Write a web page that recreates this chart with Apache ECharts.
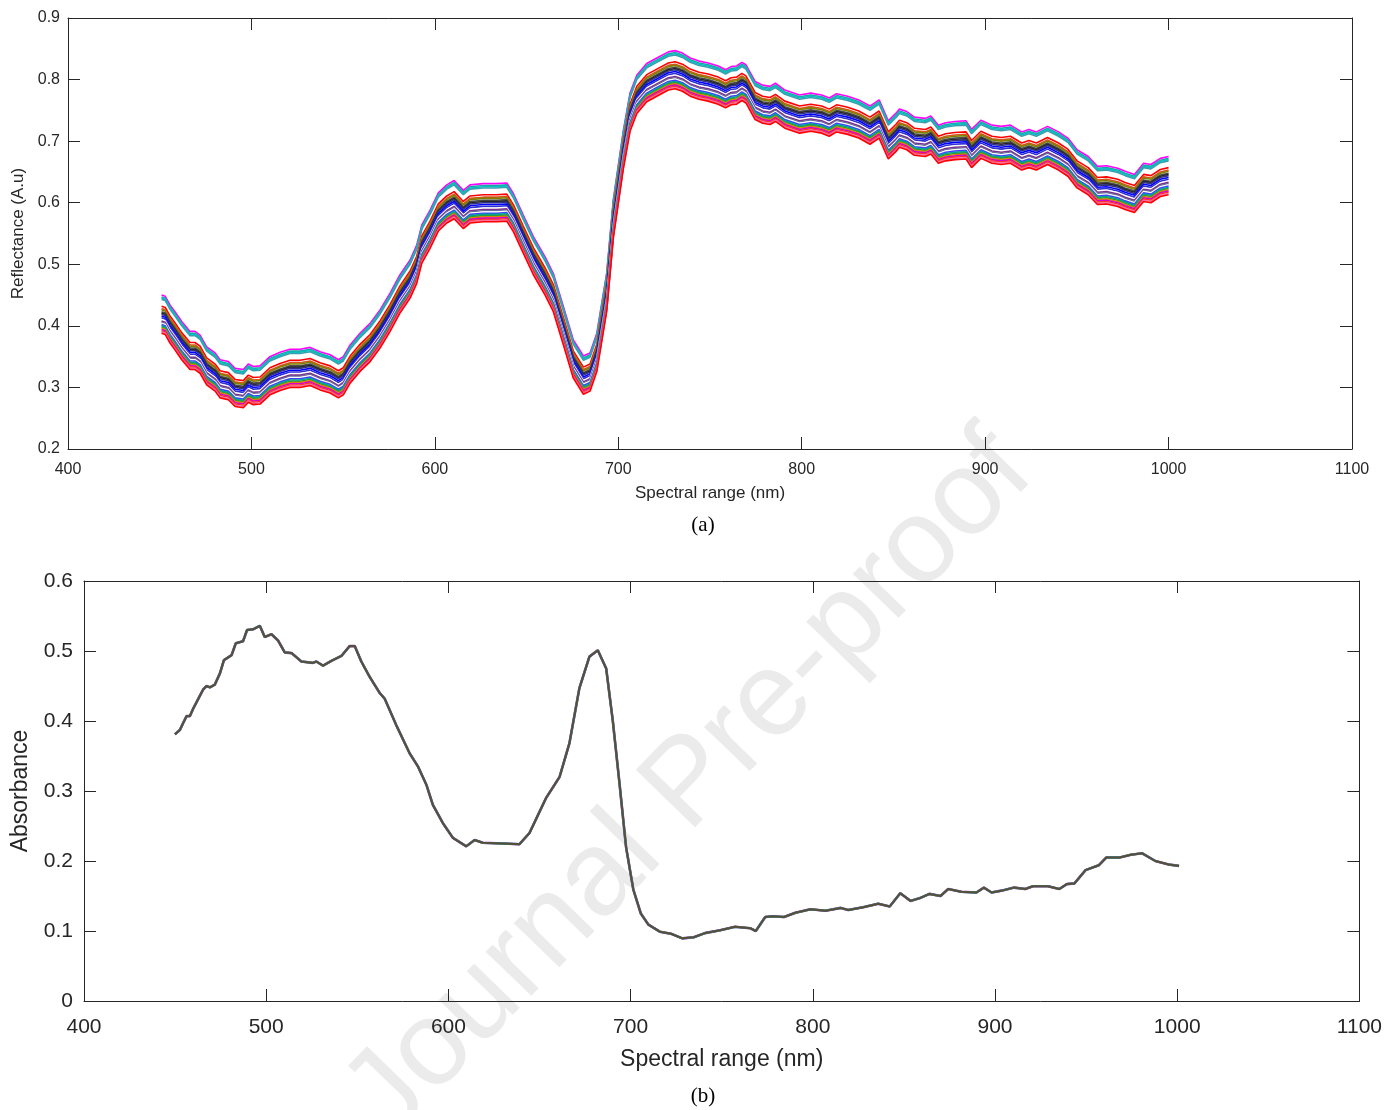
<!DOCTYPE html>
<html>
<head>
<meta charset="utf-8">
<title>Reflectance and absorbance spectra</title>
<script src="https://cdn.jsdelivr.net/npm/echarts@6/dist/echarts.min.js"></script>
<style>
  html, body { margin: 0; padding: 0; background: #fff; }
  #chart { width: 1385px; height: 1110px; }
</style>
</head>
<body>
<div id="chart"></div>
<script>
// (a) upper envelope of the reflectance spectra
const wlTop = [451, 453, 455.6, 458.3, 462, 466.5, 469.2, 472, 475.6, 480.2, 482.9, 487.4, 491.1, 495.6, 498.3,
  501, 504.7, 510.1, 515.6, 521, 526.5, 532, 537.4, 542.9, 547.4, 550.1, 553.8, 559.2, 564.7, 570.1,
  575.6, 581, 586.5, 590.1, 592.9, 597.4, 601.9, 606.5, 610.5, 615.5, 619.2, 626.4, 633.7, 639.2, 642.8,
  648.2, 653.7, 660.1, 664.6, 670.1, 675.5, 681, 684.6, 688.3, 693.7, 697.3, 702.8, 706.4, 710.1, 715.5,
  721, 727.3, 731, 735, 739.2, 744, 749, 754.5, 758.5, 761.5, 764.5, 767.4, 769.6, 774.6, 778.7,
  782.7, 785.7, 790.8, 798.8, 804.9, 810.9, 815, 819, 825.1, 831.1, 837.2, 842.2, 847.2, 851.3, 853.3,
  857.3, 861.4, 867.4, 870.4, 874.5, 878.5, 883.5, 889.6, 892.6, 897.7, 903.7, 908.8, 913.8, 919.9, 923.9,
  927.9, 934, 940, 945.1, 950.1, 956.2, 961.2, 966.2, 972.3, 976.3, 981.4, 986.4, 990.4, 995.5, 1000];
const reflTop = [0.450, 0.448, 0.434, 0.423, 0.407, 0.391, 0.391, 0.385, 0.366, 0.356, 0.345, 0.342, 0.331, 0.329, 0.338,
  0.334, 0.335, 0.350, 0.357, 0.362, 0.362, 0.365, 0.358, 0.353, 0.345, 0.350, 0.369, 0.388, 0.404, 0.426,
  0.453, 0.483, 0.507, 0.531, 0.564, 0.588, 0.616, 0.629, 0.636, 0.620, 0.629, 0.631, 0.631, 0.632, 0.615,
  0.580, 0.545, 0.512, 0.485, 0.431, 0.377, 0.351, 0.356, 0.388, 0.486, 0.605, 0.718, 0.778, 0.807, 0.826,
  0.835, 0.845, 0.847, 0.843, 0.835, 0.830, 0.827, 0.822, 0.816, 0.821, 0.822, 0.828, 0.824, 0.797, 0.791,
  0.789, 0.794, 0.783, 0.775, 0.778, 0.775, 0.770, 0.777, 0.773, 0.767, 0.757, 0.767, 0.733, 0.745, 0.752,
  0.748, 0.739, 0.737, 0.741, 0.726, 0.730, 0.732, 0.733, 0.719, 0.734, 0.726, 0.724, 0.726, 0.715, 0.719,
  0.715, 0.724, 0.715, 0.705, 0.686, 0.675, 0.659, 0.660, 0.656, 0.651, 0.646, 0.664, 0.662, 0.672, 0.675];

// how far each sample spectrum sits below the upper envelope, and its colour
const sampleOffsets = [0.000, 0.003, 0.005, 0.007, 0.018, 0.022, 0.024, 0.027, 0.029, 0.031, 0.034, 0.037,
  0.040, 0.042, 0.044, 0.046, 0.048, 0.050, 0.052, 0.054, 0.056, 0.058, 0.060, 0.062];
const sampleColors = ['#ff00ff', '#1fa3a8', '#00c4c4', '#3aa0b0', '#ff0000', '#d95319', '#808000', '#4d4d4d',
  '#262626', '#33337f', '#0000ff', '#3030d0', '#ffffff', '#7e2f8e', '#6a6a9a', '#ffffff', '#4040ff', '#00a0a0',
  '#20a040', '#e08000', '#d000d0', '#ff3030', '#ff70a0', '#ff0000'];

// (b) absorbance spectrum
const wlAbs = [449.9, 452.6, 454.4, 456.3, 458.1, 460, 463.2, 465.4, 467.3, 469.1, 471.8, 474.6, 476.8, 481, 483.3,
  487.3, 489.5, 492.8, 496.5, 499.2, 502.9, 506.5, 510.2, 513.9, 519.3, 525.7, 527.5, 531.2, 535.8, 541.3,
  545.8, 548.6, 552.2, 556.8, 562.3, 565, 571.4, 578.7, 583.3, 587.9, 591.5, 597, 602.5, 609.8, 614.4,
  618.9, 629.9, 639, 644.5, 653.6, 661, 666.4, 671.9, 677.4, 682, 686.6, 690.2, 693.9, 697.5, 701.5,
  705.6, 709.8, 716, 722.2, 728.4, 734.6, 740.8, 749.1, 757.3, 765.6, 768.7, 773.9, 778, 784.2, 790.4,
  798.7, 807, 815.3, 819.4, 827.7, 835.9, 842.2, 848, 853.6, 858.8, 864, 870.1, 874.3, 881.5, 889.8,
  893.9, 898.1, 904.2, 910.4, 916.6, 920.8, 929, 935.3, 939.4, 943.6, 949.7, 957, 961.1, 968.4, 974.6,
  980.8, 988, 995.3, 1001];
const absorb = [0.381, 0.387, 0.397, 0.407, 0.407, 0.418, 0.434, 0.445, 0.450, 0.448, 0.452, 0.468, 0.487, 0.494, 0.511,
  0.514, 0.530, 0.531, 0.536, 0.520, 0.524, 0.515, 0.498, 0.497, 0.485, 0.483, 0.485, 0.479, 0.486, 0.493,
  0.507, 0.507, 0.485, 0.463, 0.440, 0.432, 0.394, 0.354, 0.335, 0.309, 0.280, 0.254, 0.233, 0.221, 0.230,
  0.226, 0.225, 0.224, 0.240, 0.290, 0.320, 0.368, 0.447, 0.492, 0.501, 0.475, 0.401, 0.311, 0.220, 0.159,
  0.125, 0.109, 0.099, 0.096, 0.0895, 0.091, 0.097, 0.101, 0.106, 0.104, 0.100, 0.120, 0.121, 0.120, 0.126,
  0.131, 0.129, 0.133, 0.130, 0.134, 0.139, 0.135, 0.154, 0.143, 0.147, 0.153, 0.150, 0.160, 0.156, 0.155,
  0.162, 0.155, 0.158, 0.162, 0.160, 0.164, 0.164, 0.160, 0.167, 0.168, 0.187, 0.194, 0.205, 0.205, 0.209,
  0.211, 0.200, 0.195, 0.193];
const absColors = ['#b020b0', '#2a9a8a', '#55503a'];

const ink = '#262626';
const sans = 'Liberation Sans, Arial, Helvetica, sans-serif';

function boxAxis(gridIndex, position, opts) {
  const main = position === 'bottom' || position === 'left';
  return Object.assign({
    type: 'value', gridIndex, position,
    axisLine: { show: true, onZero: false, lineStyle: { color: ink, width: 1 } },
    axisTick: { show: true, inside: true, length: 12, lineStyle: { color: ink } },
    axisLabel: { show: main },
    splitLine: { show: false },
  }, opts);
}

const xFmt = v => String(v);
const yFmt = v => String(+v.toFixed(1));

const chart = echarts.init(document.getElementById('chart'));

const topSeries = sampleOffsets.map((off, i) => ({
  type: 'line', xAxisIndex: 0, yAxisIndex: 0, showSymbol: false, silent: true,
  lineStyle: { width: 1.6, color: sampleColors[i] },
  data: wlTop.map((w, j) => [w, +(reflTop[j] - off).toFixed(4)]),
}));

const absSeries = absColors.map((c, i) => ({
  type: 'line', xAxisIndex: 2, yAxisIndex: 2, showSymbol: false, silent: true,
  lineStyle: { width: [2.6, 2.3, 2][i], color: c },
  data: wlAbs.map((w, j) => [w, absorb[j]]),
}));

chart.setOption({
  animation: false,
  backgroundColor: '#fff',
  grid: [
    { left: 68, top: 18, width: 1284, height: 431 },
    { left: 84, top: 581, width: 1277, height: 420 },
  ],
  xAxis: [
    boxAxis(0, 'bottom', { min: 400, max: 1100, interval: 100,
      axisLabel: { color: ink, fontFamily: sans, fontSize: 16, margin: 13, formatter: xFmt },
      name: 'Spectral range (nm)', nameLocation: 'middle', nameGap: 36,
      nameTextStyle: { color: ink, fontFamily: sans, fontSize: 17 } }),
    boxAxis(0, 'top', { min: 400, max: 1100, interval: 100 }),
    boxAxis(1, 'bottom', { min: 400, max: 1100, interval: 100,
      axisLabel: { color: ink, fontFamily: sans, fontSize: 21, margin: 16, formatter: xFmt },
      name: 'Spectral range (nm)', nameLocation: 'middle', nameGap: 47,
      nameTextStyle: { color: ink, fontFamily: sans, fontSize: 23 } }),
    boxAxis(1, 'top', { min: 400, max: 1100, interval: 100 }),
  ],
  yAxis: [
    boxAxis(0, 'left', { min: 0.2, max: 0.9, interval: 0.1,
      axisLabel: { color: ink, fontFamily: sans, fontSize: 16, margin: 8, formatter: yFmt },
      name: 'Reflectance (A.u)', nameLocation: 'middle', nameGap: 40,
      nameTextStyle: { color: ink, fontFamily: sans, fontSize: 17 } }),
    boxAxis(0, 'right', { min: 0.2, max: 0.9, interval: 0.1 }),
    boxAxis(1, 'left', { min: 0, max: 0.6, interval: 0.1,
      axisLabel: { color: ink, fontFamily: sans, fontSize: 21, margin: 11, formatter: yFmt },
      name: 'Absorbance', nameLocation: 'middle', nameGap: 52,
      nameTextStyle: { color: ink, fontFamily: sans, fontSize: 23 } }),
    boxAxis(1, 'right', { min: 0, max: 0.6, interval: 0.1 }),
  ],
  graphic: [
    { type: 'text', z: -10, silent: true, x: 690, y: 785, rotation: 0.80,
      style: { text: 'Journal Pre-proof', fill: '#ebebeb', font: '120px Liberation Sans, Arial, sans-serif',
        align: 'center', verticalAlign: 'middle' } },
    { type: 'text', x: 703, y: 525, style: { text: '(a)', fill: '#000',
      font: '21px Liberation Serif, Times New Roman, serif', align: 'center', verticalAlign: 'middle' } },
    { type: 'text', x: 703, y: 1096, style: { text: '(b)', fill: '#000',
      font: '21px Liberation Serif, Times New Roman, serif', align: 'center', verticalAlign: 'middle' } },
  ],
  series: topSeries.concat(absSeries),
});
</script>
</body>
</html>
